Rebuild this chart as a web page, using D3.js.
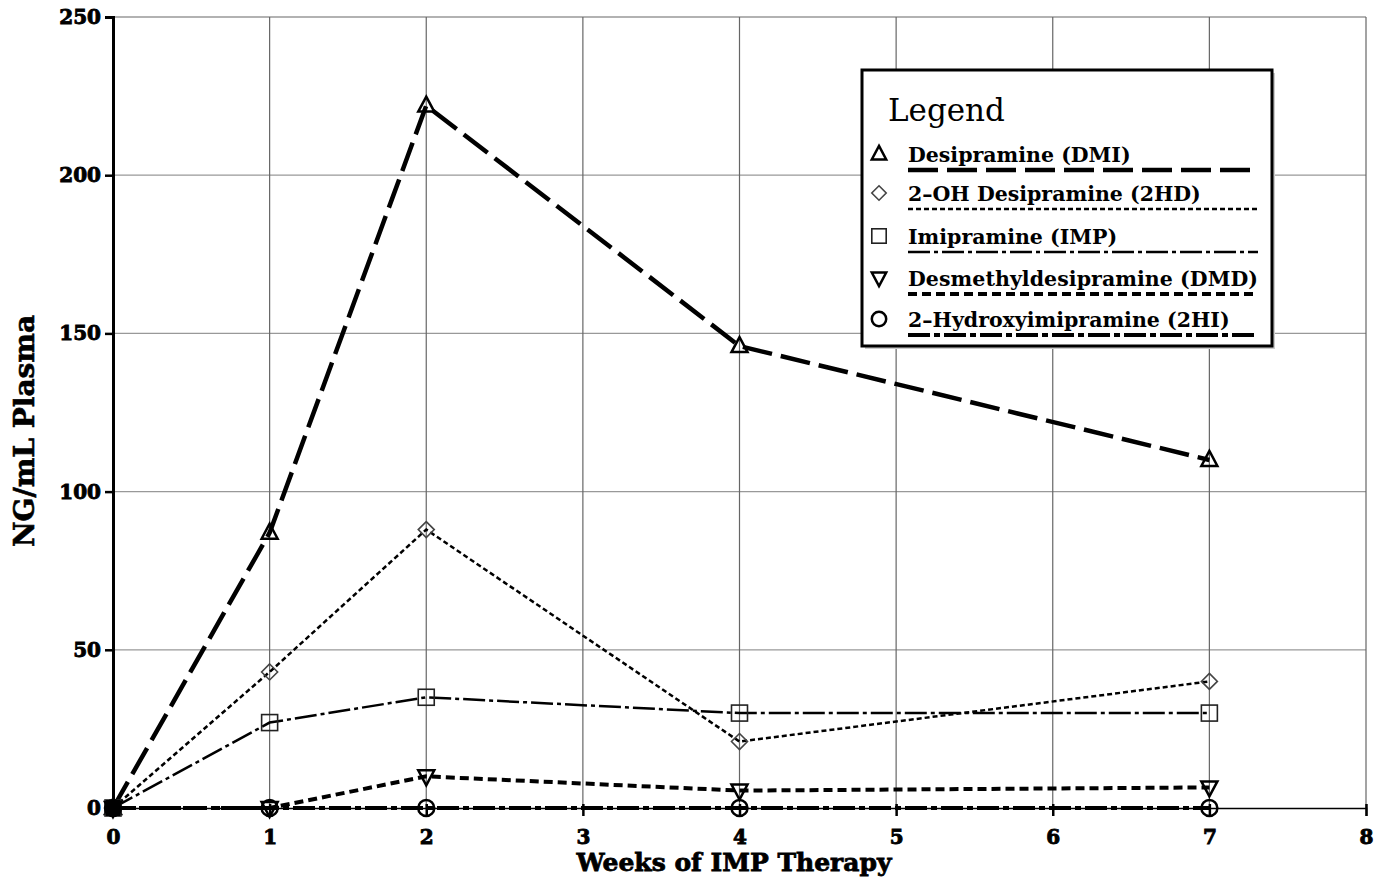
<!DOCTYPE html>
<html><head><meta charset="utf-8">
<script src="https://cdn.jsdelivr.net/npm/d3@7"></script>
<style>body{margin:0;background:#fff}svg{display:block}</style>
</head><body>
<svg id="c" width="1379" height="881"></svg>
<script>
const weeks = [0, 1, 2, 4, 7];
const dmi = [0, 87, 222, 146, 110];
const hd2 = [0, 43, 88, 21, 40];
const imp = [0, 27, 35, 30, 30];
const dmd = [0, 0, 10, 5.5, 6.5];
const hi2 = [0, 0, 0, 0, 0];
const xTicks = [0,1,2,3,4,5,6,7,8];
const yTicks = [0,50,100,150,200,250];
const seriesNames = ["Desipramine (DMI)","2\u2013OH Desipramine (2HD)","Imipramine (IMP)","Desmethyldesipramine (DMD)","2\u2013Hydroxyimipramine (2HI)"];

const svg = d3.select("#c");
const x = d3.scaleLinear().domain([0,8]).range([113,1366]);
const y = d3.scaleLinear().domain([0,250]).range([808,17]);
const font = "'DejaVu Serif', serif";

// grid
svg.append("g").selectAll("line").data(yTicks.slice(1)).join("line")
  .attr("x1",x(0)).attr("x2",x(8)).attr("y1",d=>y(d)).attr("y2",d=>y(d))
  .attr("stroke","#999").attr("stroke-width",1.3);
svg.append("g").selectAll("line").data(xTicks.slice(1)).join("line")
  .attr("x1",d=>x(d)).attr("x2",d=>x(d)).attr("y1",y(250)).attr("y2",y(0))
  .attr("stroke","#666").attr("stroke-width",1.2);

// axes
const yAxis = d3.axisLeft(y).tickValues(yTicks).tickSize(8).tickPadding(4);
const gy = svg.append("g").attr("transform",`translate(${x(0)},0)`).call(yAxis);
gy.select(".domain").attr("stroke","#000").attr("stroke-width",3);
gy.selectAll(".tick line").attr("stroke","#000").attr("stroke-width",2.5);
gy.selectAll("text").attr("font-family",font).attr("font-weight","bold").attr("font-size",20)
  .attr("fill","#000").attr("stroke","#000").attr("stroke-width",0.9);

const xAxis = d3.axisBottom(x).tickValues(xTicks).tickSize(8).tickPadding(14);
const gx = svg.append("g").attr("transform",`translate(0,${y(0)})`).call(xAxis);
gx.select(".domain").attr("stroke","#000").attr("stroke-width",1.5);
gx.selectAll(".tick line").attr("stroke","#000").attr("stroke-width",2.5).attr("y1",-4);
gx.selectAll("text").attr("font-family",font).attr("font-weight","bold").attr("font-size",20)
  .attr("fill","#000").attr("stroke","#000").attr("stroke-width",0.9);

// labels
svg.append("text").attr("x",734).attr("y",871).attr("text-anchor","middle")
  .attr("font-family",font).attr("font-weight","bold").attr("font-size",25)
  .attr("stroke","#000").attr("stroke-width",0.8).text("Weeks of IMP Therapy");
svg.append("text").attr("transform","translate(34,431) rotate(-90)").attr("text-anchor","middle")
  .attr("font-family",font).attr("font-weight","bold").attr("font-size",28)
  .attr("stroke","#000").attr("stroke-width",0.6).text("NG/mL Plasma");

const styles = [
  {data:dmi, dash:"30,9", w:4.5, sym:"tri"},
  {data:hd2, dash:"5,3", w:2.5, sym:"dia"},
  {data:imp, dash:"22,4,4,4", w:2.5, sym:"sq"},
  {data:dmd, dash:"9,5", w:4, sym:"tri2"},
  {data:hi2, dash:"22,4,6,4", w:4, sym:"circ"}
];
const line = d3.line().x((d,i)=>x(weeks[i])).y(d=>y(d));
styles.slice().reverse().forEach(s=>{
  svg.append("path").datum(s.data).attr("d",line).attr("fill","none")
    .attr("stroke","#000").attr("stroke-width",s.w).attr("stroke-dasharray",s.dash)
    .attr("stroke-linecap","butt");
});

function marker(g, type, cx, cy, big){
  const k = big||1;
  if(type==="tri"){
    g.append("path").attr("d",`M${cx},${cy-9*k}L${cx+8*k},${cy+6*k}L${cx-8*k},${cy+6*k}Z`)
     .attr("fill","none").attr("stroke","#000").attr("stroke-width",2.5);
  } else if(type==="tri2"){
    g.append("path").attr("d",`M${cx},${cy+9*k}L${cx+8*k},${cy-6*k}L${cx-8*k},${cy-6*k}Z`)
     .attr("fill","none").attr("stroke","#000").attr("stroke-width",2.5);
  } else if(type==="dia"){
    g.append("path").attr("d",`M${cx},${cy-8*k}L${cx+8*k},${cy}L${cx},${cy+8*k}L${cx-8*k},${cy}Z`)
     .attr("fill","none").attr("stroke","#444").attr("stroke-width",1.6);
  } else if(type==="sq"){
    g.append("rect").attr("x",cx-8*k).attr("y",cy-8*k).attr("width",16*k).attr("height",16*k)
     .attr("fill","none").attr("stroke","#222").attr("stroke-width",1.6);
  } else if(type==="circ"){
    g.append("circle").attr("cx",cx).attr("cy",cy).attr("r",8*k)
     .attr("fill","none").attr("stroke","#000").attr("stroke-width",2.5);
  }
}
const mg = svg.append("g");
styles.forEach(s=>{
  s.data.forEach((v,i)=>marker(mg, s.sym, x(weeks[i]), y(v)));
});
// filled blob at origin
mg.append("rect").attr("x",x(0)-7).attr("y",y(0)-8).attr("width",14).attr("height",16).attr("fill","#000");

// legend
const lg = svg.append("g");
lg.append("rect").attr("x",865).attr("y",73).attr("width",410).attr("height",276).attr("fill","#ccc");
lg.append("rect").attr("x",862).attr("y",70).attr("width",410).attr("height",276)
  .attr("fill","#fff").attr("stroke","#000").attr("stroke-width",3);
lg.append("text").attr("x",888).attr("y",121).attr("font-family",font).attr("font-size",31).text("Legend");
const rows = [162, 201, 244, 286, 327];
styles.forEach((s,i)=>{
  const ry = rows[i];
  marker(lg, s.sym, 879, ry-8, 0.9);
  lg.append("text").attr("x",908).attr("y",ry).attr("font-family",font).attr("font-weight","bold")
    .attr("font-size",20.5).attr("textLength", i===3?350:null).text(seriesNames[i]);
  lg.append("line").attr("x1",908).attr("x2",1258).attr("y1",ry+8).attr("y2",ry+8)
    .attr("stroke","#000").attr("stroke-width",s.w).attr("stroke-dasharray",s.dash);
});
</script>
</body></html>
